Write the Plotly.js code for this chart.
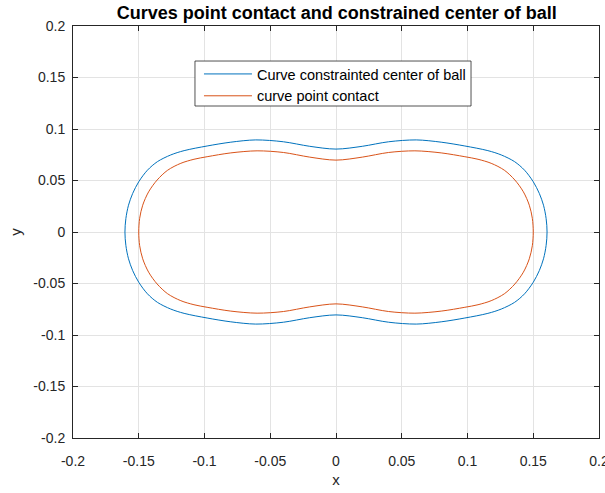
<!DOCTYPE html>
<html>
<head>
<meta charset="utf-8">
<script src="https://cdn.plot.ly/plotly-3.0.1.min.js"></script>
<style>html,body{margin:0;padding:0;background:#fff;}#plot{width:605px;height:493px;}</style>
</head>
<body>
<div id="plot"></div>
<script>
// Curve of constrained center of ball (closed)
var centerX = [-0.1605,-0.1598,-0.1578,-0.1546,-0.1500,-0.1434,-0.1358,-0.1257,-0.1155,-0.098,-0.080,-0.061,-0.040,-0.020,0.000,
                0.020,0.040,0.061,0.080,0.098,0.1155,0.1257,0.1358,0.1434,0.1500,0.1546,0.1578,0.1598,0.1605,
                0.1598,0.1578,0.1546,0.1500,0.1434,0.1358,0.1257,0.1155,0.098,0.080,0.061,0.040,0.020,0.000,
                -0.020,-0.040,-0.061,-0.080,-0.098,-0.1155,-0.1257,-0.1358,-0.1434,-0.1500,-0.1546,-0.1578,-0.1598,-0.1605];
var centerY = [0.000,0.013,0.026,0.0375,0.0488,0.060,0.0683,0.0748,0.079,0.0835,0.0872,0.0894,0.0876,0.0832,0.0805,
                0.0832,0.0876,0.0894,0.0872,0.0835,0.079,0.0748,0.0683,0.060,0.0488,0.0375,0.026,0.013,0.000,
                -0.013,-0.026,-0.0375,-0.0488,-0.060,-0.0683,-0.0748,-0.079,-0.0835,-0.0872,-0.0894,-0.0876,-0.0832,-0.0805,
                -0.0832,-0.0876,-0.0894,-0.0872,-0.0835,-0.079,-0.0748,-0.0683,-0.060,-0.0488,-0.0375,-0.026,-0.013,0.000];
// Curve of point contact (closed)
var contactX = [-0.1500,-0.1493,-0.1470,-0.1425,-0.1360,-0.1280,-0.1180,-0.1080,-0.098,-0.080,-0.060,-0.040,-0.020,0.000,
                 0.020,0.040,0.060,0.080,0.098,0.1080,0.1180,0.1280,0.1360,0.1425,0.1470,0.1493,0.1500,
                 0.1493,0.1470,0.1425,0.1360,0.1280,0.1180,0.1080,0.098,0.080,0.060,0.040,0.020,0.000,
                 -0.020,-0.040,-0.060,-0.080,-0.098,-0.1080,-0.1180,-0.1280,-0.1360,-0.1425,-0.1470,-0.1493,-0.1500];
var contactY = [0.000,0.0133,0.026,0.039,0.0505,0.060,0.0667,0.0706,0.0731,0.0768,0.0788,0.0772,0.0727,0.0698,
                 0.0727,0.0772,0.0788,0.0768,0.0731,0.0706,0.0667,0.060,0.0505,0.039,0.026,0.0133,0.000,
                 -0.0133,-0.026,-0.039,-0.0505,-0.060,-0.0667,-0.0706,-0.0731,-0.0768,-0.0788,-0.0772,-0.0727,-0.0698,
                 -0.0727,-0.0772,-0.0788,-0.0768,-0.0731,-0.0706,-0.0667,-0.060,-0.0505,-0.039,-0.026,-0.0133,0.000];
var tickVals = [-0.2,-0.15,-0.1,-0.05,0,0.05,0.1,0.15,0.2];
var tickText = ['-0.2','-0.15','-0.1','-0.05','0','0.05','0.1','0.15','0.2'];

var font = 'Liberation Sans, Arial, Helvetica, sans-serif';
var traces = [
  {x: centerX, y: centerY, mode: 'lines', name: 'Curve constrainted center of ball',
   line: {color: '#0072BD', width: 1, shape: 'spline', smoothing: 0.9}},
  {x: contactX, y: contactY, mode: 'lines', name: 'curve point contact',
   line: {color: '#D95319', width: 1, shape: 'spline', smoothing: 0.9}}
];
var axisCommon = {
  range: [-0.2, 0.2], tickmode: 'array', tickvals: tickVals, ticktext: tickText,
  showgrid: true, gridcolor: '#e3e3e3', gridwidth: 1, zeroline: false,
  showline: true, linecolor: '#262626', linewidth: 1, mirror: 'ticks',
  ticks: 'inside', ticklen: 5, tickcolor: '#262626', tickwidth: 1,
  ticklabeloverflow: 'allow',
  tickfont: {family: font, size: 14, color: '#262626'}
};
var layout = {
  width: 605, height: 493,
  margin: {l: 73, r: 6, t: 26, b: 55},
  paper_bgcolor: '#ffffff', plot_bgcolor: '#ffffff',
  title: {text: '<b>Curves point contact and constrained center of ball</b>',
          font: {family: font, size: 18, color: '#000000'},
          x: 0.5565, xanchor: 'center', y: 0.975, yanchor: 'middle'},
  xaxis: Object.assign({}, axisCommon, {
    ticklabelstandoff: 10,
    title: {text: 'x', font: {family: font, size: 15, color: '#262626'}, standoff: 6}
  }),
  yaxis: Object.assign({}, axisCommon, {
    ticklabelstandoff: 4,
    title: {text: 'y', font: {family: font, size: 15, color: '#262626'}, standoff: 8}
  }),
  shapes: [{type: 'rect', xref: 'paper', yref: 'paper',
            x0: 0.2319, x1: 0.7567, y0: 0.8058, y1: 0.9150,
            fillcolor: '#ffffff', line: {color: '#262626', width: 0.8}, layer: 'above'}],
  showlegend: true,
  legend: {x: 0.2395, y: 0.9223, xanchor: 'left', yanchor: 'top',
           bgcolor: 'rgba(0,0,0,0)', borderwidth: 0,
           font: {family: font, size: 14.5, color: '#000000'},
           tracegroupgap: 0, itemwidth: 48}
};
Plotly.newPlot('plot', traces, layout, {displayModeBar: false, staticPlot: true});
</script>
</body>
</html>
